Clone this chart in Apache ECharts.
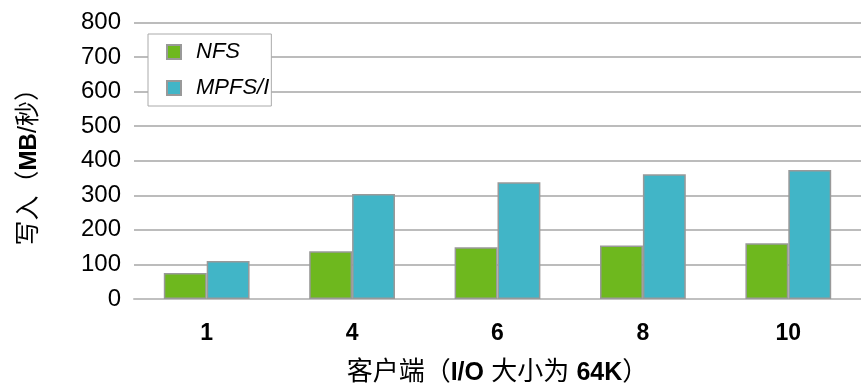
<!DOCTYPE html>
<html>
<head>
<meta charset="utf-8">
<script src="https://cdn.jsdelivr.net/npm/echarts@6/dist/echarts.min.js"></script>
<style>
  html, body { margin: 0; padding: 0; background: #fff; }
  #chart { width: 861px; height: 391px; }
</style>
</head>
<body>
<div id="chart"></div>
<script>
// Values
const clients = ['1', '4', '6', '8', '10'];
const nfsValues = [75, 138, 150, 155, 161];
const mpfsValues = [110, 304, 338, 361, 373];
const seriesNames = ['NFS', 'MPFS/I'];

const chart = echarts.init(document.getElementById('chart'));
const font = '"Liberation Sans", Arial, "Noto Sans CJK SC", sans-serif';
const barBorder = { borderColor: '#999999', borderWidth: 1.5 };

const option = {
    animation: false,
    textStyle: { fontFamily: font },
    grid: { left: 134, top: 22.5, width: 729, height: 281 },
    legend: {
        orient: 'vertical',
        left: 148, top: 34,
        padding: [7, 2, 7, 18],
        icon: 'rect',
        itemWidth: 14, itemHeight: 14, itemGap: 14,
        backgroundColor: '#fff',
        borderColor: '#aaaaaa', borderWidth: 1,
        textStyle: { fontSize: 22, fontStyle: 'italic', color: '#000', fontFamily: font, padding: [0, 0, 0, 10] },
        data: seriesNames
    },
    xAxis: {
        type: 'category',
        data: clients,
        axisLine: { lineStyle: { color: '#c0c0c0', width: 2 } },
        axisTick: { show: false },
        axisLabel: { fontSize: 23, fontWeight: 'bold', color: '#000', margin: 23, fontFamily: font },
        name: '{n|客户端（}{b|I/O}{n| 大小为 }{b|64K}{n|）}',
        nameLocation: 'middle',
        nameGap: 61,
        nameTextStyle: {
            rich: {
                n: { fontSize: 26, color: '#000', fontFamily: font },
                b: { fontSize: 25, color: '#000', fontWeight: 'bold', fontFamily: font }
            }
        }
    },
    yAxis: {
        type: 'value',
        min: 0, max: 800, interval: 100,
        axisLine: { show: false },
        axisTick: { show: false },
        splitLine: { lineStyle: { color: '#a6a6a6', width: 1.5 } },
        axisLabel: { fontSize: 24, color: '#000', margin: 13, fontFamily: font },
        name: '{n|写入（}{b|MB}{n|/秒）}',
        nameLocation: 'middle',
        nameGap: 92,
        nameTextStyle: {
            rich: {
                n: { fontSize: 25, color: '#000', fontFamily: font },
                b: { fontSize: 24, color: '#000', fontWeight: 'bold', fontFamily: font }
            }
        }
    },
    series: [
        {
            name: seriesNames[0], type: 'bar', data: nfsValues,
            barGap: '0%', barCategoryGap: '41%',
            itemStyle: Object.assign({ color: '#6eb81e' }, barBorder)
        },
        {
            name: seriesNames[1], type: 'bar', data: mpfsValues,
            itemStyle: Object.assign({ color: '#41b5c7' }, barBorder)
        }
    ]
};

chart.setOption(option);
</script>
</body>
</html>
